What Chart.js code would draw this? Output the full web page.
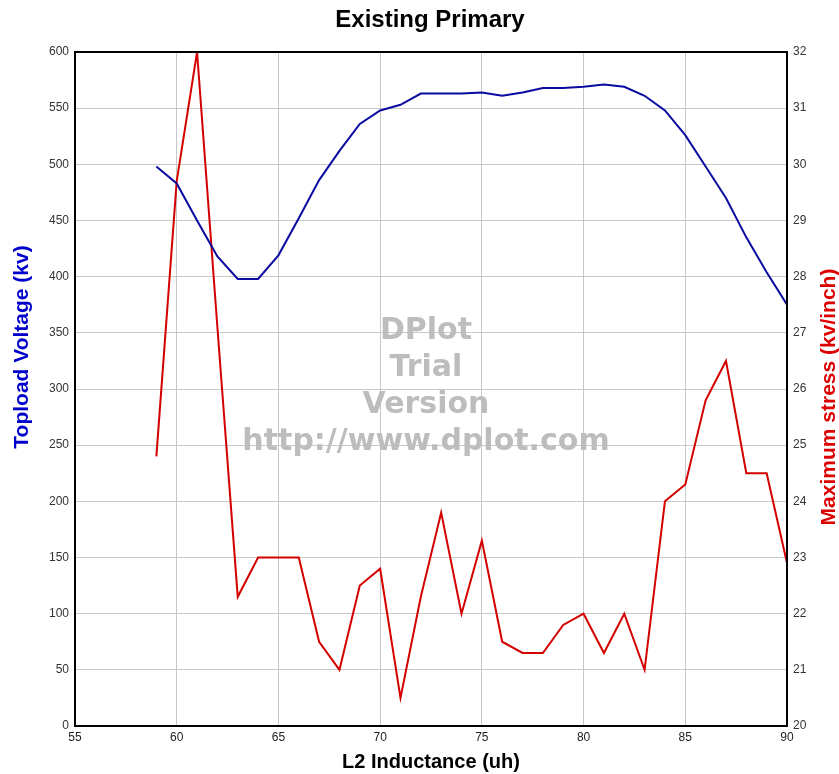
<!DOCTYPE html>
<html>
<head>
<meta charset="utf-8">
<script src="https://cdn.jsdelivr.net/npm/chart.js@4/dist/chart.umd.min.js"></script>
<style>
  html, body { margin: 0; padding: 0; background: #ffffff; }
  #wrap { width: 839px; height: 774px; }
</style>
</head>
<body>
<div id="wrap"><canvas id="c" width="839" height="774"></canvas></div>
<script>
const inductance = [59, 60, 61, 62, 63, 64, 65, 66, 67, 68, 69, 70, 71, 72, 73, 74, 75, 76, 77, 78, 79, 80, 81, 82, 83, 84, 85, 86, 87, 88, 89, 90];
const toploadVoltage = [498, 483, 450, 418, 398, 398, 419, 452, 486, 512, 536, 548, 553, 563, 563, 563, 564, 561, 564, 568, 568, 569, 571, 569, 561, 548, 526, 498, 470, 435, 404, 375];
const maxStress = [24.8, 29.7, 32.0, 27.1, 22.3, 23.0, 23.0, 23.0, 21.5, 21.0, 22.5, 22.8, 20.5, 22.3, 23.8, 22.0, 23.3, 21.5, 21.3, 21.3, 21.8, 22.0, 21.3, 22.0, 21.0, 24.0, 24.3, 25.8, 26.5, 24.5, 24.5, 22.9];

const chartTitle = 'Existing Primary';
const xTitle = 'L2 Inductance (uh)';
const yLeftTitle = 'Topload Voltage (kv)';
const yRightTitle = 'Maximum stress (kv/inch)';
const watermarkLines = ['DPlot', 'Trial', 'Version', 'http://www.dplot.com'];

const voltagePoints = inductance.map((x, i) => ({ x: x, y: toploadVoltage[i] }));
const stressPoints = inductance.map((x, i) => ({ x: x, y: maxStress[i] }));

const FONT = "Arial, 'Liberation Sans', sans-serif";

const decorPlugin = {
  id: 'decor',
  beforeDatasetsDraw(chart) {
    const ctx = chart.ctx;
    ctx.save();
    ctx.fillStyle = '#bdbdbd';
    ctx.font = "bold 30px 'DejaVu Sans', Verdana, sans-serif";
    ctx.textAlign = 'center';
    ctx.textBaseline = 'middle';
    const cx = 426;
    const startY = 331;
    watermarkLines.forEach((t, i) => ctx.fillText(t, cx, startY + i * 37));
    ctx.restore();
  },
  afterDraw(chart) {
    const ctx = chart.ctx;
    const a = chart.chartArea;
    ctx.save();
    // frame
    ctx.strokeStyle = '#000000';
    ctx.lineWidth = 2;
    ctx.strokeRect(a.left, a.top, a.right - a.left, a.bottom - a.top);
    // title
    ctx.fillStyle = '#000000';
    ctx.font = "bold 24px " + FONT;
    ctx.textAlign = 'center';
    ctx.textBaseline = 'middle';
    ctx.fillText(chartTitle, 430, 20);
    // x title
    ctx.font = "bold 20px " + FONT;
    ctx.fillText(xTitle, 431, 762);
    // left y title
    ctx.save();
    ctx.translate(22, 347);
    ctx.rotate(-Math.PI / 2);
    ctx.fillStyle = '#0000cc';
    ctx.font = "bold 21px " + FONT;
    ctx.fillText(yLeftTitle, 0, 0);
    ctx.restore();
    // right y title
    ctx.save();
    ctx.translate(829, 397);
    ctx.rotate(-Math.PI / 2);
    ctx.fillStyle = '#dd0000';
    ctx.font = "bold 21px " + FONT;
    ctx.fillText(yRightTitle, 0, 0);
    ctx.restore();
    ctx.restore();
  }
};

new Chart(document.getElementById('c'), {
  type: 'line',
  data: {
    datasets: [
      {
        label: yLeftTitle,
        data: voltagePoints,
        yAxisID: 'yL',
        borderColor: '#0a0aa0',
        borderWidth: 2,
        pointRadius: 0,
        tension: 0,
        fill: false
      },
      {
        label: yRightTitle,
        data: stressPoints,
        yAxisID: 'yR',
        borderColor: '#d40000',
        borderWidth: 2,
        pointRadius: 0,
        tension: 0,
        fill: false
      }
    ]
  },
  options: {
    responsive: false,
    animation: false,
    devicePixelRatio: 1,
    layout: { padding: { top: 52, left: 0, right: 0, bottom: 0 } },
    plugins: {
      legend: { display: false },
      tooltip: { enabled: false },
      title: { display: false }
    },
    scales: {
      x: {
        type: 'linear',
        min: 55,
        max: 90,
        ticks: { stepSize: 5, color: '#222', font: { family: FONT, size: 12 }, padding: 4, maxRotation: 0 },
        grid: { color: '#c8c8c8', lineWidth: 1, drawTicks: false },
        border: { display: false },
        afterFit(s) { s.height = 48; }
      },
      yL: {
        type: 'linear',
        position: 'left',
        min: 0,
        max: 600,
        ticks: { stepSize: 50, color: '#333', font: { family: FONT, size: 12 }, padding: 6 },
        grid: { color: '#c8c8c8', lineWidth: 1, drawTicks: false },
        border: { display: false },
        afterFit(s) { s.width = 75; }
      },
      yR: {
        type: 'linear',
        position: 'right',
        min: 20,
        max: 32,
        ticks: { stepSize: 1, color: '#333', font: { family: FONT, size: 12 }, padding: 6 },
        grid: { display: false, drawTicks: false },
        border: { display: false },
        afterFit(s) { s.width = 52; }
      }
    }
  },
  plugins: [decorPlugin]
});
</script>
</body>
</html>
